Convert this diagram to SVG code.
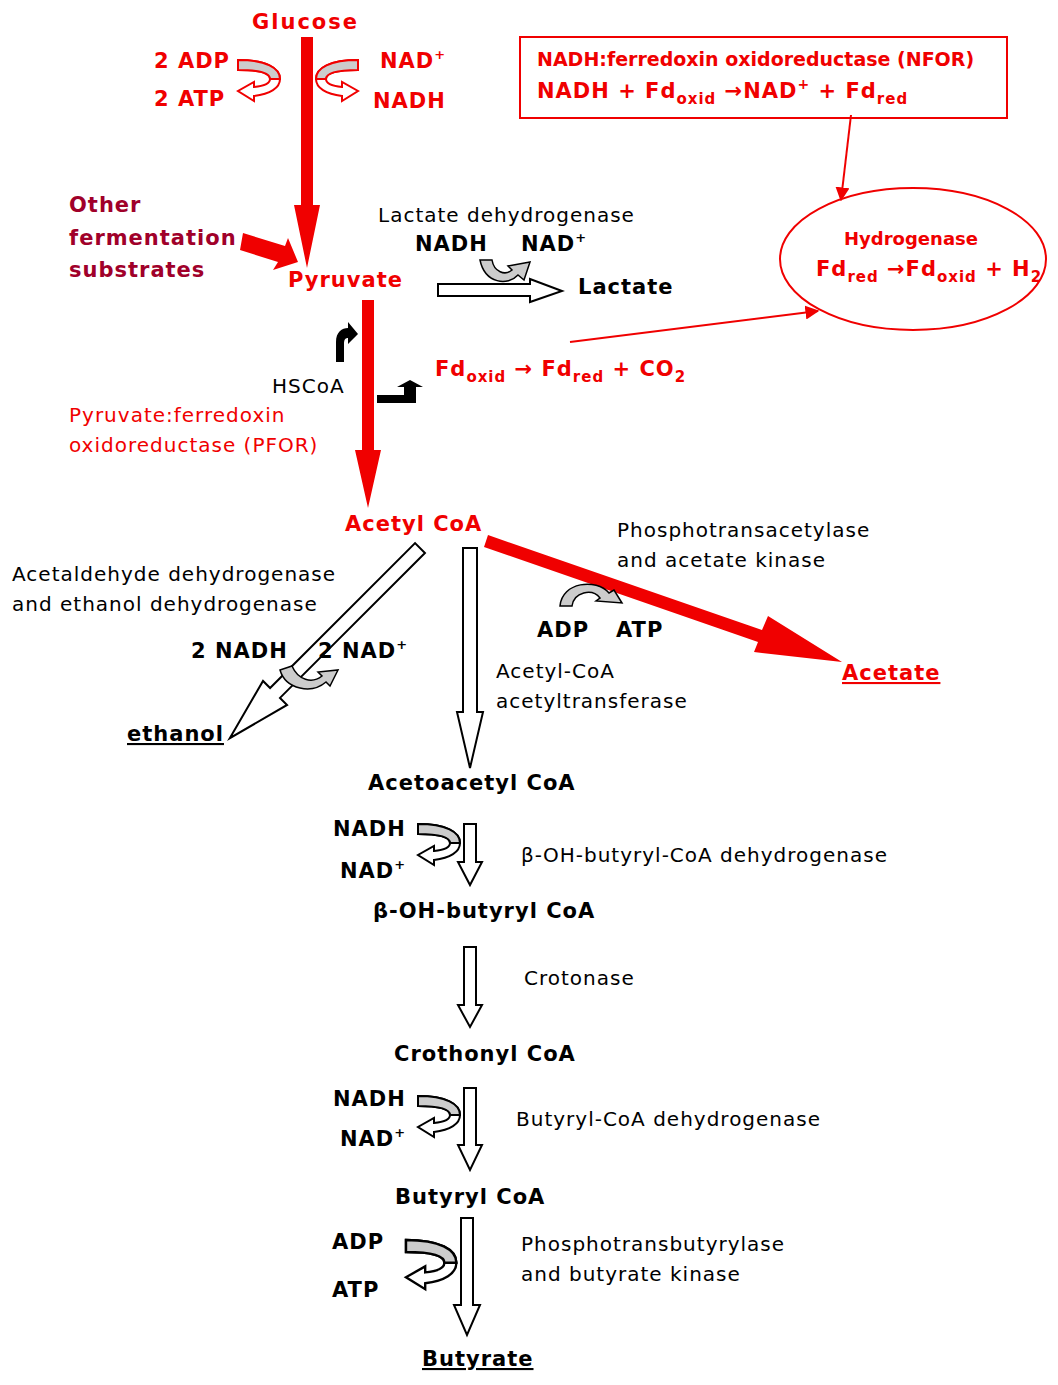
<svg xmlns="http://www.w3.org/2000/svg" xmlns:xlink="http://www.w3.org/1999/xlink" width="1058" height="1385" viewBox="0 0 1058 1385">
<style>
text{font-family:"DejaVu Sans","Liberation Sans",sans-serif}
.b{font-weight:bold;font-size:21px;letter-spacing:1px}
.n{font-size:20px;letter-spacing:1px}
.r{fill:#f00000}
.dr{fill:#a0002a}
.k{fill:#000}
.oa{fill:#fff;stroke:#000;stroke-width:2}
.u{text-decoration:underline}
</style>
<defs>
<g id="ua">
<path d="M0,0 C28,0 42,8 42,19 C42,28 32,34 16,36 L16,41 L0,31 L16,22 L16,27 C27,26 32,23 32,19 C32,13 22,10 0,10 Z" fill="#fff" stroke-width="2"/>
<path d="M0,0 C28,0 42,8 42,19 L32,19 C32,13 22,10 0,10 Z" fill="#ccc" stroke-width="2"/>
</g>
<marker id="ra" viewBox="0 0 10 10" refX="9" refY="5" markerWidth="7" markerHeight="7" orient="auto"><path d="M0,0 L10,5 L0,10 Z" fill="#f00000"/></marker>
</defs>
<g id="connectors">
<path d="M301,37 H313 V205 H320 L307,268 L294,205 H301 Z" fill="#f00000"/>
<use xlink:href="#ua" transform="translate(238,60)" stroke="#f00000"/>
<use xlink:href="#ua" transform="translate(358,60) scale(-1,1)" stroke="#f00000"/>
<line x1="851" y1="115" x2="841" y2="200" stroke="#f00000" stroke-width="2" marker-end="url(#ra)"/>
<path d="M243,233 L285,246 L288,238 L298,262 L273,270 L278,262 L240,250 Z" fill="#f00000"/>
<path d="M438,284 H530 V279 L562,291 L530,302 V296 H438 Z" class="oa"/>
<path d="M480,260 H492 C494,272 505,276 512,270 L508,266 L530,262 L524,280 L518,275 C508,286 485,284 480,260Z" fill="#ccc" stroke="#000" stroke-width="1.5"/>
<path d="M362,300 H374 V450 H381 L368,508 L355,450 H362 Z" fill="#f00000"/>
<path d="M336,362 V342 C336,332 342,328 348,328 V322 L358,334 L348,344 V338 C345,338 344,340 344,344 V362Z" fill="#000"/>
<path d="M377,395 H404 V387 H397 L410,380 L423,387 H416 V403 H377Z" fill="#000"/>
<line x1="570" y1="342" x2="818" y2="311" stroke="#f00000" stroke-width="2" marker-end="url(#ra)"/>
<path d="M488,535 L762,630 L768,616 L842,662 L754,652 L758,642 L484,547 Z" fill="#f00000"/>
<path d="M560,606 L572,606 C574,592 592,588 600,598 L596,601 L622,603 L614,590 L609,593 C596,578 562,582 560,606Z" fill="#ccc" stroke="#000" stroke-width="1.5"/>
<path d="M0,-7 H205 V-17 L269,0 L205,17 V7 H0 Z" class="oa" transform="translate(420,548) rotate(135)"/>
<path d="M280,670 L292,666 C298,680 312,684 322,676 L318,672 L338,670 L330,686 L326,682 C312,694 286,690 280,670Z" fill="#ccc" stroke="#000" stroke-width="1.5"/>
<path d="M463,548 H477 V712 H483 L470,768 L457,712 H463Z" class="oa"/>
<path d="M464,824H476V862H482L470,885L458,862H464Z" class="oa"/>
<use xlink:href="#ua" transform="translate(418,824)" stroke="#000"/>
<path d="M464,947H476V1005H482L470,1027L458,1005H464Z" class="oa"/>
<path d="M464,1088H476V1145H482L470,1170L458,1145H464Z" class="oa"/>
<use xlink:href="#ua" transform="translate(418,1096)" stroke="#000"/>
<path d="M461,1218H473V1305H480L467,1335L454,1305H461Z" class="oa"/>
<use xlink:href="#ua" transform="translate(406,1240) scale(1.2,1.2)" stroke="#000"/>
</g>
<g id="glucose"><text x="252" y="29" class="b r" style="letter-spacing:2px">Glucose</text></g>
<g id="glyco-cof">
<text x="154" y="68" class="b r">2 ADP</text>
<text x="154" y="106" class="b r">2 ATP</text>
<text x="380" y="68" class="b r">NAD<tspan font-size="13" dy="-9">+</tspan></text>
<text x="373" y="108" class="b r">NADH</text>
</g>
<g id="nfor">
<rect x="520" y="37" width="487" height="81" fill="none" stroke="#f00000" stroke-width="2"/>
<text x="537" y="66" class="r" font-weight="bold" font-size="19">NADH:ferredoxin oxidoreductase (NFOR)</text>
<text x="537" y="98" class="b r" font-size="22">NADH + Fd<tspan font-size="15" dy="6">oxid</tspan><tspan dy="-6"> →NAD</tspan><tspan font-size="14" dy="-9">+</tspan><tspan dy="9"> + Fd</tspan><tspan font-size="15" dy="6">red</tspan></text>
</g>
<g id="hydrogenase">
<ellipse cx="913" cy="259" rx="133" ry="71" fill="none" stroke="#f00000" stroke-width="2"/>
<text x="911" y="245" class="r" font-weight="bold" font-size="18" text-anchor="middle">Hydrogenase</text>
<text x="816" y="276" class="b r" font-size="22">Fd<tspan font-size="15" dy="6">red</tspan><tspan dy="-6"> →Fd</tspan><tspan font-size="15" dy="6">oxid</tspan><tspan dy="-6"> + H</tspan><tspan font-size="15" dy="6">2</tspan></text>
</g>
<g id="other"><text class="b dr" font-size="22"><tspan x="69" y="212">Other</tspan><tspan x="69" y="245">fermentation</tspan><tspan x="69" y="277">substrates</tspan></text></g>
<g id="pyruvate"><text x="288" y="287" class="b r" font-size="22">Pyruvate</text></g>
<g id="lactate">
<text x="378" y="222" class="n">Lactate dehydrogenase</text>
<text x="415" y="251" class="b">NADH</text>
<text x="521" y="251" class="b">NAD<tspan font-size="13" dy="-9">+</tspan></text>
<text x="578" y="294" class="b" font-size="23">Lactate</text>
</g>
<g id="pfor">
<text x="272" y="393" class="n" font-size="21">HSCoA</text>
<text class="r n" font-size="21"><tspan x="69" y="422">Pyruvate:ferredoxin</tspan><tspan x="69" y="452">oxidoreductase (PFOR)</tspan></text>
<text x="435" y="376" class="b r" font-size="22">Fd<tspan font-size="15" dy="6">oxid</tspan><tspan dy="-6"> →  Fd</tspan><tspan font-size="15" dy="6">red</tspan><tspan dy="-6">  + CO</tspan><tspan font-size="15" dy="6">2</tspan></text>
</g>
<g id="acetylcoa"><text x="345" y="531" class="b r" font-size="23">Acetyl CoA</text></g>
<g id="acetate">
<text class="n" font-size="21"><tspan x="617" y="537">Phosphotransacetylase</tspan><tspan x="617" y="567">and acetate kinase</tspan></text>
<text x="537" y="637" class="b">ADP</text>
<text x="616" y="637" class="b">ATP</text>
<text x="842" y="680" class="b r u" font-size="22">Acetate</text>
</g>
<g id="ethanol">
<text class="n" font-size="21"><tspan x="12" y="581">Acetaldehyde dehydrogenase</tspan><tspan x="12" y="611">and ethanol dehydrogenase</tspan></text>
<text x="191" y="658" class="b">2 NADH</text>
<text x="318" y="658" class="b">2 NAD<tspan font-size="13" dy="-9">+</tspan></text>
<text x="127" y="741" class="b u" font-size="22">ethanol</text>
</g>
<g id="acetoacetyl">
<text class="n" font-size="21"><tspan x="496" y="678">Acetyl-CoA</tspan><tspan x="496" y="708">acetyltransferase</tspan></text>
<text x="368" y="790" class="b" font-size="22">Acetoacetyl CoA</text>
</g>
<g id="bohb">
<text x="333" y="836" class="b">NADH</text>
<text x="340" y="878" class="b">NAD<tspan font-size="13" dy="-9">+</tspan></text>
<text x="521" y="862" class="n" font-size="21">β-OH-butyryl-CoA dehydrogenase</text>
<text x="373" y="918" class="b" font-size="22">β-OH-butyryl CoA</text>
</g>
<g id="crotonyl">
<text x="524" y="985" class="n" font-size="21">Crotonase</text>
<text x="394" y="1061" class="b" font-size="22">Crothonyl CoA</text>
</g>
<g id="butyryl">
<text x="333" y="1106" class="b">NADH</text>
<text x="340" y="1146" class="b">NAD<tspan font-size="13" dy="-9">+</tspan></text>
<text x="516" y="1126" class="n" font-size="21">Butyryl-CoA dehydrogenase</text>
<text x="395" y="1204" class="b" font-size="22">Butyryl CoA</text>
</g>
<g id="butyrate">
<text x="332" y="1249" class="b">ADP</text>
<text x="332" y="1297" class="b">ATP</text>
<text class="n" font-size="21"><tspan x="521" y="1251">Phosphotransbutyrylase</tspan><tspan x="521" y="1281">and butyrate kinase</tspan></text>
<text x="422" y="1366" class="b u" font-size="22">Butyrate</text>
</g>
</svg>
